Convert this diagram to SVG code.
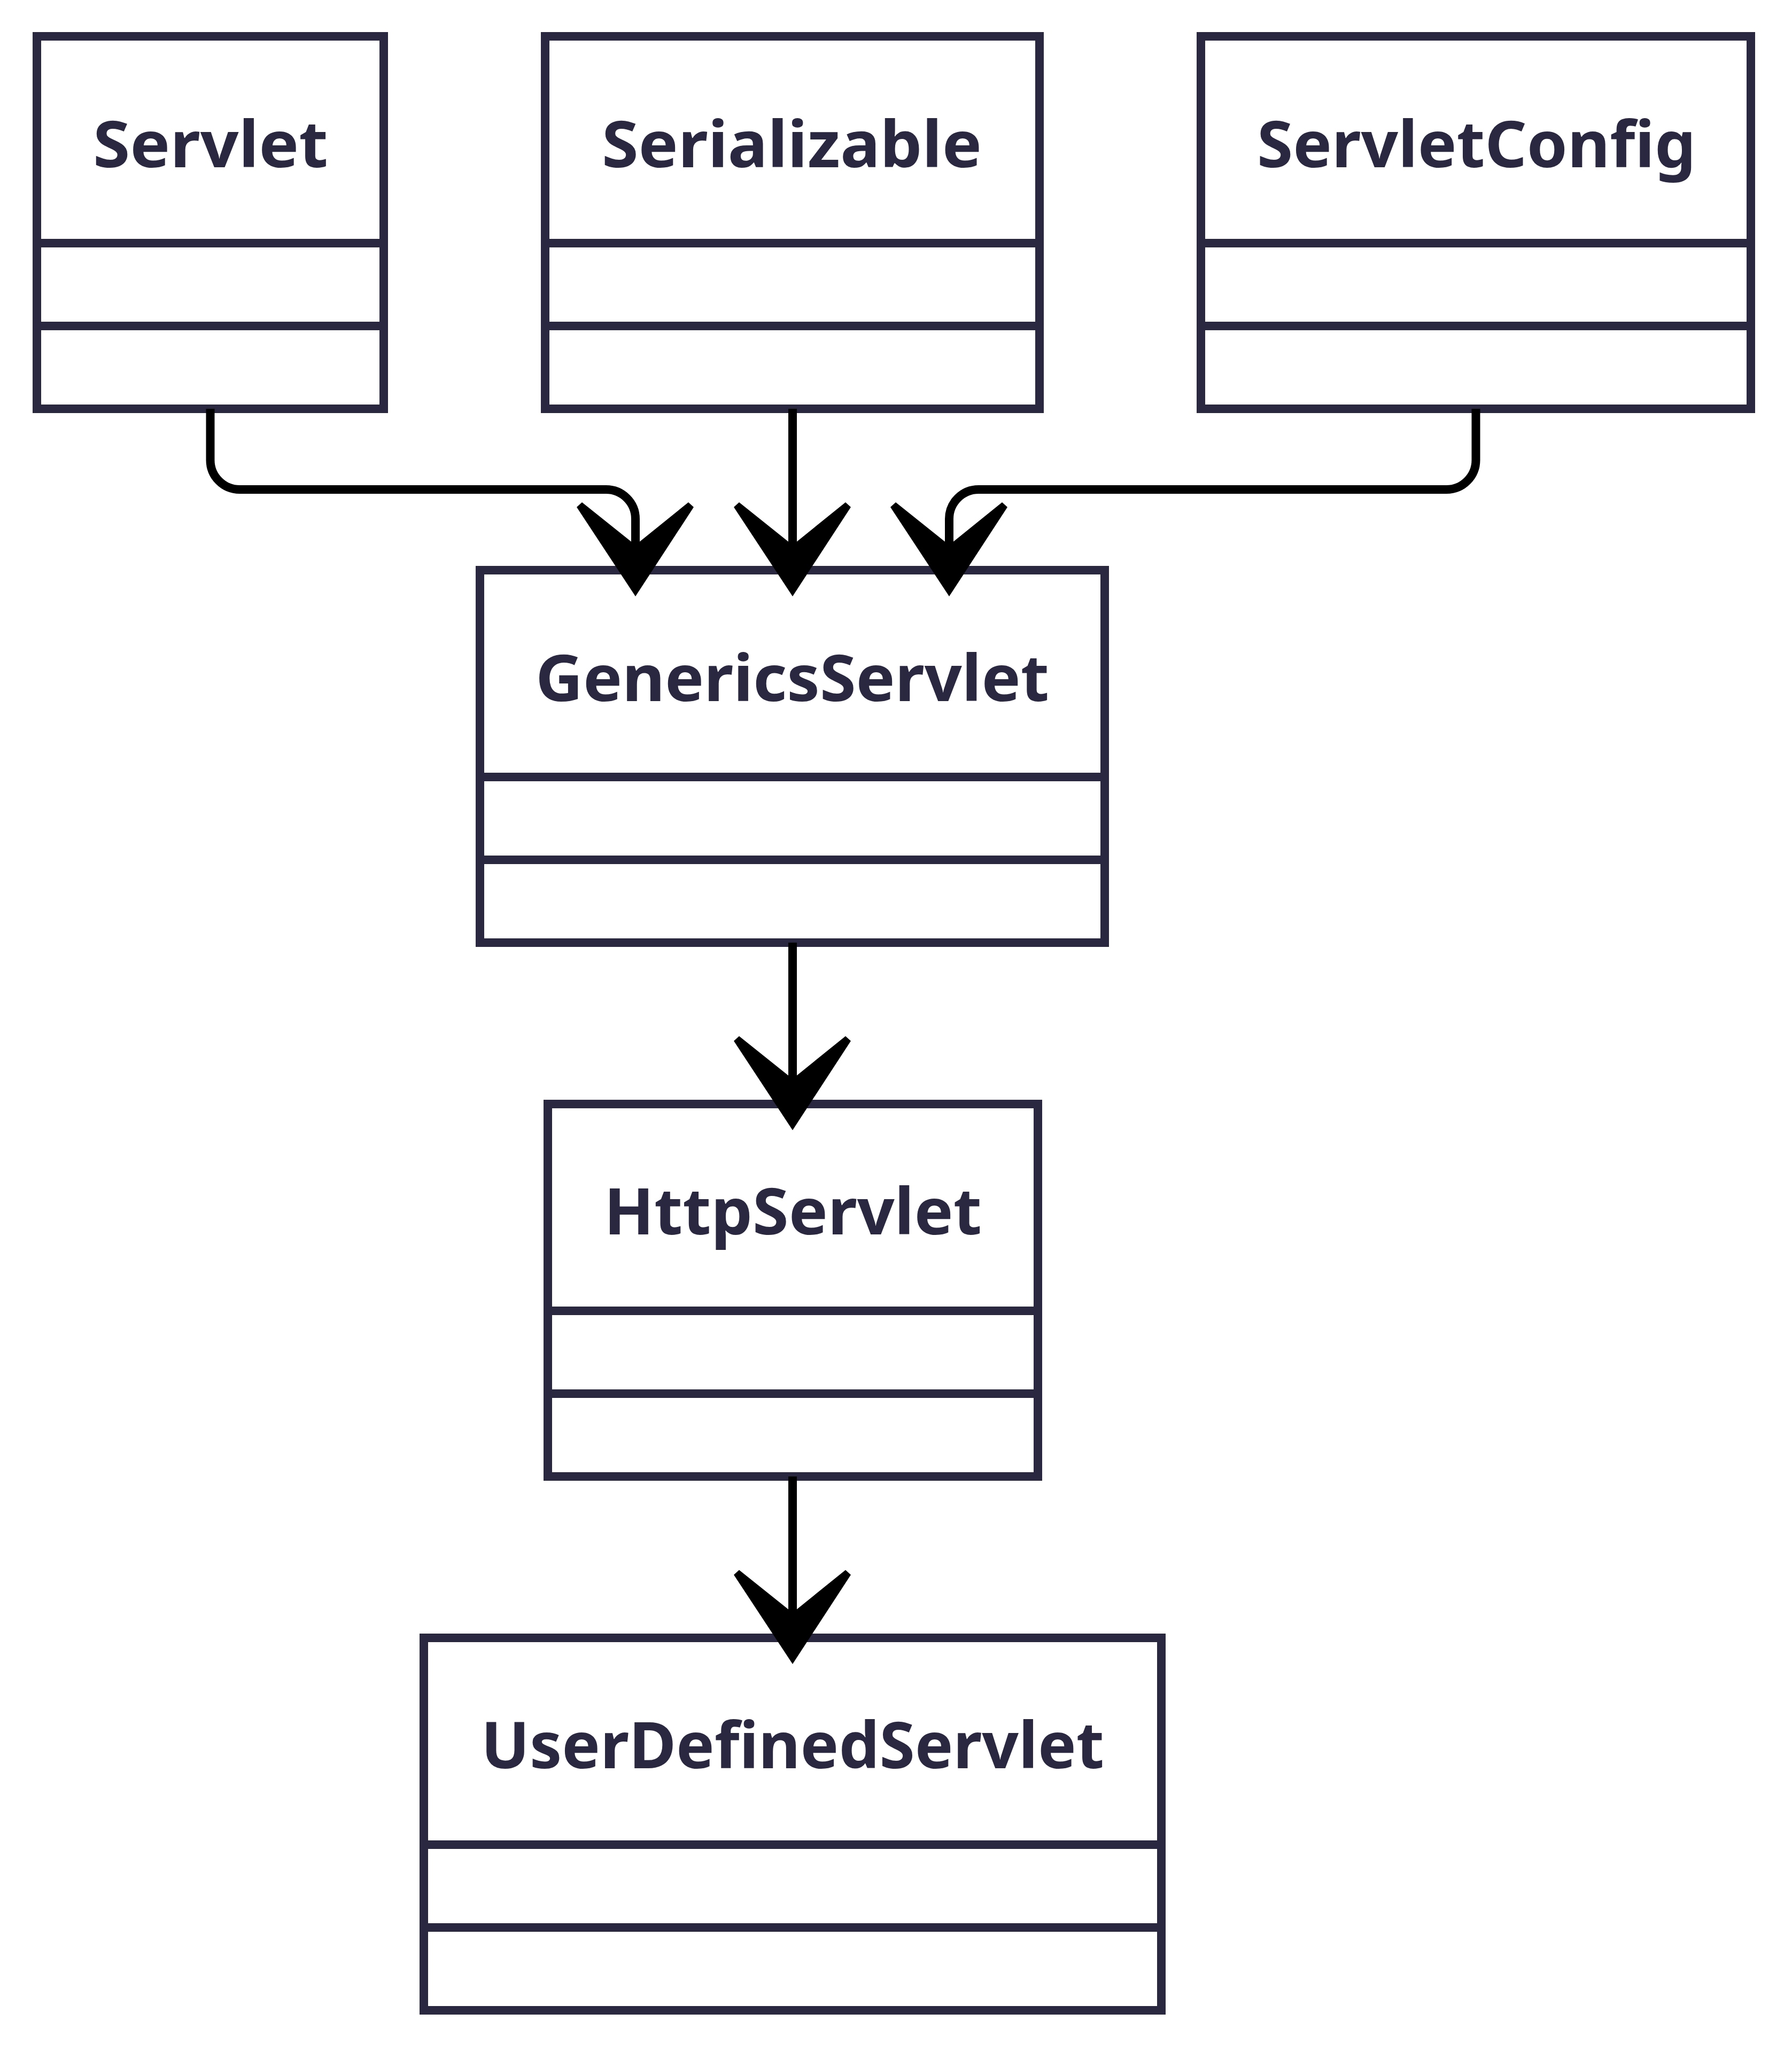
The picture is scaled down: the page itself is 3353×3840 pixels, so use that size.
<svg xmlns="http://www.w3.org/2000/svg" xmlns:xlink="http://www.w3.org/1999/xlink" width="3353" height="3840" viewBox="0 0 3353 3840">
<style>
.box{fill:#ffffff;stroke:#2a2740;stroke-width:16;}
.div{stroke:#2a2740;stroke-width:16;fill:none;}
.lbl{font-family:"Noto Sans","Open Sans","Liberation Sans",sans-serif;font-weight:700;font-size:120px;fill:#2a2740;}
.edge{fill:none;stroke:#000000;stroke-width:16;}
.head{fill:#000000;stroke:none;}
</style>
<defs>
<polygon id="ah" class="head" points="0,0 -110,-167 -100,-176 0,-96 99,-176 109,-167"/>
</defs>
<rect width="3353" height="3840" fill="#ffffff"/>
<g id="Servlet">
<rect class="box" x="69" y="68" width="649" height="697"/>
<line class="div" x1="69" y1="455" x2="718" y2="455"/>
<line class="div" x1="69" y1="610" x2="718" y2="610"/>
<text class="lbl" x="174" y="313" textLength="440" lengthAdjust="spacingAndGlyphs">Servlet</text>
</g>
<g id="Serializable">
<rect class="box" x="1020" y="68" width="925" height="697"/>
<line class="div" x1="1020" y1="455" x2="1945" y2="455"/>
<line class="div" x1="1020" y1="610" x2="1945" y2="610"/>
<text class="lbl" x="1126" y="313" textLength="711" lengthAdjust="spacingAndGlyphs">Serializable</text>
</g>
<g id="ServletConfig">
<rect class="box" x="2247" y="68" width="1029" height="697"/>
<line class="div" x1="2247" y1="455" x2="3276" y2="455"/>
<line class="div" x1="2247" y1="610" x2="3276" y2="610"/>
<text class="lbl" x="2352" y="313" textLength="821" lengthAdjust="spacingAndGlyphs">ServletConfig</text>
</g>
<g id="GenericsServlet">
<rect class="box" x="898" y="1067" width="1169" height="697"/>
<line class="div" x1="898" y1="1454" x2="2067" y2="1454"/>
<line class="div" x1="898" y1="1609" x2="2067" y2="1609"/>
<text class="lbl" x="1002" y="1312" textLength="961" lengthAdjust="spacingAndGlyphs">GenericsServlet</text>
</g>
<g id="HttpServlet">
<rect class="box" x="1025" y="2066" width="917" height="697"/>
<line class="div" x1="1025" y1="2453" x2="1942" y2="2453"/>
<line class="div" x1="1025" y1="2608" x2="1942" y2="2608"/>
<text class="lbl" x="1130" y="2310" textLength="707" lengthAdjust="spacingAndGlyphs">HttpServlet</text>
</g>
<g id="UserDefinedServlet">
<rect class="box" x="793" y="3065" width="1380" height="697"/>
<line class="div" x1="793" y1="3452" x2="2173" y2="3452"/>
<line class="div" x1="793" y1="3607" x2="2173" y2="3607"/>
<text class="lbl" x="900" y="3309" textLength="1166" lengthAdjust="spacingAndGlyphs">UserDefinedServlet</text>
</g>
<g id="connectors">
<path class="edge" d="M393.5 765 V861 A55 55 0 0 0 448.5 916 H1134 A55 55 0 0 1 1189 971 V1022"/>
<path class="edge" d="M1483 765 V1022"/>
<path class="edge" d="M2761.5 765 V861 A55 55 0 0 1 2706.5 916 H1831 A55 55 0 0 0 1776 971 V1022"/>
<path class="edge" d="M1483 1764 V2020"/>
<path class="edge" d="M1483 2763 V3019"/>
<use xlink:href="#ah" x="1189" y="1116"/>
<use xlink:href="#ah" x="1483" y="1116"/>
<use xlink:href="#ah" x="1776" y="1116"/>
<use xlink:href="#ah" x="1483" y="2115"/>
<use xlink:href="#ah" x="1483" y="3114"/>
</g>
</svg>
